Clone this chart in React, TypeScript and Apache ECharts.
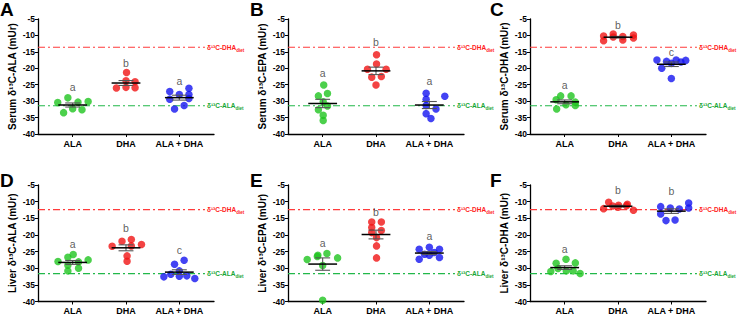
import React, { useEffect, useRef } from 'react';
import * as echarts from 'echarts';

const groups = ['ALA', 'DHA', 'ALA + DHA'];
const groupColors = ['#1fc41f', '#f01414', '#1414f0'];
const panelLetters = ['A', 'B', 'C', 'D', 'E', 'F'];
const yTitles = [
  'Serum δ¹³C-ALA (mUr)', 'Serum δ¹³C-EPA (mUr)', 'Serum δ¹³C-DHA (mUr)',
  'Liver δ¹³C-ALA (mUr)', 'Liver δ¹³C-EPA (mUr)', 'Liver δ¹³C-DHA (mUr)',
];

// diet reference values per panel
const dhaDiet = [-13.6, -13.6, -13.6, -12.4, -12.4, -12.4];
const alaDiet = [-31.4, -31.4, -31.4, -31.6, -31.6, -31.6];

// Panel A
const A_values = [
  [-30.4, -29.0, -33.5, -32.3, -30.3, -32.6, -30.1],
  [-26.0, -21.3, -23.8, -24.1, -25.8, -25.9],
  [-27.1, -29.4, -28.0, -26.1, -28.0, -29.2, -32.4, -31.3],
];
const A_jitter = [
  [-0.28, -0.09, -0.17, 0, 0.1, 0.175, 0.29],
  [-0.18, 0.01, 0, 0.17, 0, 0.17],
  [-0.18, -0.18, 0, 0.18, 0.18, 0.18, -0.09, 0.09],
];
const A_letters = ['a', 'b', 'a'];
const A_letterY = [-25.8, -18.3, -23.8];

// Panel B
const B_values = [
  [-25.1, -28.4, -27.7, -30.2, -31.5, -32.6, -34.3, -35.9],
  [-15.9, -18.7, -20.3, -20.3, -22.7, -22.5, -25.1],
  [-27.6, -28.5, -29.4, -31.3, -32.4, -33.8, -35.3],
];
const B_jitter = [
  [0.02, -0.08, 0.09, 0.01, 0.09, -0.08, 0.01, 0.01],
  [0.01, 0.01, -0.16, 0.19, -0.08, 0.1, 0],
  [-0.06, 0.29, -0.06, -0.06, 0.125, -0.06, 0.03],
];
const B_letters = ['a', 'b', 'a'];
const B_letterY = [-21.5, -12.1, -23.8];

// Panel C
const C_values = [
  [-28.4, -28.4, -29.6, -31.1, -30.3, -31.3, -32.4],
  [-10.2, -11.6, -9.6, -10.5, -10.3, -11.4, -9.9, -10.8],
  [-17.5, -20.0, -17.9, -18.5, -17.5, -18.1, -17.6, -23.1],
];
const C_jitter = [
  [-0.075, 0.12, -0.16, 0.025, 0.2, 0.2, -0.15],
  [-0.27, -0.27, -0.09, -0.09, 0.09, 0.09, 0.29, 0.29],
  [-0.27, -0.18, -0.09, 0, 0.09, 0.18, 0.27, 0],
];
const C_letters = ['a', 'b', 'c'];
const C_letterY = [-25.1, -6.8, -15.1];

// Panel D
const D_values = [
  [-28.0, -26.7, -25.9, -29.1, -28.1, -27.5, -30.0, -30.8],
  [-23.4, -21.9, -21.4, -23.3, -22.9, -26.3, -27.9],
  [-28.8, -27.6, -32.6, -31.8, -30.8, -32.4, -32.3, -33.1],
];
const D_jitter = [
  [-0.275, -0.09, 0.01, -0.09, 0.11, 0.29, 0.11, -0.09],
  [-0.26, -0.075, 0.1, 0.1, 0.29, 0.02, 0.02],
  [-0.09, 0.09, -0.29, -0.16, 0, 0, 0.14, 0.29],
];
const D_letters = ['a', 'b', 'c'];
const D_letterY = [-22.6, -17.9, -24.6];

// Panel E
const E_values = [
  [-27.4, -26.1, -25.6, -26.5, -26.9, -29.2, -39.6],
  [-16.1, -16.1, -17.8, -19.3, -18.7, -20.8, -23.3, -26.9],
  [-24.3, -23.7, -24.3, -25.8, -26.1, -25.3, -27.3, -26.8],
];
const E_jitter = [
  [-0.29, -0.09, 0.08, -0.1, 0.28, 0, 0],
  [-0.08, 0.1, -0.08, -0.08, 0.1, 0.01, 0.01, 0.01],
  [-0.19, 0, 0.19, -0.09, 0, 0.09, -0.19, 0.19],
];
const E_letters = ['a', 'b', 'a'];
const E_letterY = [-22.4, -13.0, -20.3];

// Panel F
const F_values = [
  [-31.0, -28.5, -27.3, -28.4, -30.1, -30.8, -30.8, -31.6],
  [-12.1, -10.2, -11.3, -11.7, -11.1, -11.2, -10.8, -12.6],
  [-11.5, -11.9, -12.2, -10.4, -11.9, -13.7, -15.7, -15.5],
];
const F_jitter = [
  [-0.26, -0.16, 0.025, 0.2, -0.125, 0.03, 0.16, 0.29],
  [-0.27, -0.175, -0.1, 0, 0.01, 0.16, 0.175, 0.29],
  [-0.2, -0.02, 0.15, 0.325, 0.325, -0.2, -0.1, 0.07],
];
const F_letters = ['a', 'b', 'b'];
const F_letterY = [-24.3, -6.6, -6.9];

const allValues = [A_values, B_values, C_values, D_values, E_values, F_values];
const allJitter = [A_jitter, B_jitter, C_jitter, D_jitter, E_jitter, F_jitter];
const allLetters = [A_letters, B_letters, C_letters, D_letters, E_letters, F_letters];
const allLetterY = [A_letterY, B_letterY, C_letterY, D_letterY, E_letterY, F_letterY];

const FONT = '"Liberation Sans", Arial, sans-serif';
const X_MIN = 0.35;
const X_MAX = 3.65;
const REF_END = 3.48;

const colLeft = [38, 288, 530];
const rowTop = [19, 185];
const gridW = 176;
const gridH = [115, 116.5];

function meanSem(arr: number[]) {
  const n = arr.length;
  const m = arr.reduce((a, b) => a + b, 0) / n;
  const sd = Math.sqrt(arr.reduce((a, b) => a + (b - m) * (b - m), 0) / (n - 1));
  return [m, sd / Math.sqrt(n)];
}

function refSeries(p: number, value: number, txt: string, lineColor: string, textColor: string) {
  return {
    type: 'line', xAxisIndex: p, yAxisIndex: p, z: 2, silent: true,
    symbol: 'none', showSymbol: false,
    lineStyle: { color: lineColor, width: 1.2, type: [7, 3, 2, 3] },
    itemStyle: { color: lineColor },
    emphasis: { disabled: true },
    data: [[X_MIN, value], [REF_END, value]],
    endLabel: {
      show: true, distance: 2,
      formatter: '{m|' + txt + '}{s|diet}',
      rich: {
        m: { fontSize: 6.5, color: textColor, fontFamily: FONT, fontWeight: 'bold', lineHeight: 11, verticalAlign: 'middle' },
        s: { fontSize: 4.5, color: textColor, fontFamily: FONT, fontWeight: 'bold', lineHeight: 11, verticalAlign: 'bottom' },
      },
    },
  };
}

function buildOption() {
  const grid: any[] = [];
  const xAxis: any[] = [];
  const yAxis: any[] = [];
  const series: any[] = [];
  const graphic: any[] = [];

  for (let p = 0; p < 6; p++) {
    const r = Math.floor(p / 3);
    const c = p % 3;
    grid.push({ left: colLeft[c], top: rowTop[r], width: gridW, height: gridH[r], containLabel: false });
    xAxis.push({
      type: 'value', gridIndex: p, min: X_MIN, max: X_MAX,
      splitLine: { show: false },
      axisLine: { show: true, onZero: false, lineStyle: { color: '#000', width: 1.3 } },
      axisTick: { show: true, customValues: [1, 2, 3], length: 3, lineStyle: { color: '#000', width: 1 } },
      axisLabel: {
        show: true, customValues: [1, 2, 3], margin: 5,
        formatter: (v: number) => groups[Math.round(v) - 1] || '',
        color: '#000', fontFamily: FONT, fontWeight: 'bold', fontSize: 9,
      },
    });
    yAxis.push({
      type: 'value', gridIndex: p, min: -40, max: -5, interval: 5,
      splitLine: { show: false },
      axisLine: { show: true, lineStyle: { color: '#000', width: 1.3 } },
      axisTick: { show: true, length: 3, lineStyle: { color: '#000', width: 1 } },
      axisLabel: { color: '#000', fontFamily: FONT, fontWeight: 'bold', fontSize: 8.5, margin: 3 },
      name: yTitles[p], nameLocation: 'middle', nameGap: 21, nameRotate: 90,
      nameTextStyle: { color: '#000', fontFamily: FONT, fontWeight: 'bold', fontSize: 10 },
    });

    series.push(refSeries(p, dhaDiet[p], 'δ¹³C-DHA', '#ff3b3b', '#ff1a1a'));
    series.push(refSeries(p, alaDiet[p], 'δ¹³C-ALA', '#22b84a', '#16a635'));

    const stats: any[] = [];
    const vals = allValues[p];
    const jit = allJitter[p];
    for (let g = 0; g < 3; g++) {
      const pts = vals[g].map((v, i) => [g + 1 + jit[g][i], v]);
      const [m, s] = meanSem(vals[g]);
      stats.push([g + 1, m, s]);
      series.push({
        type: 'scatter', xAxisIndex: p, yAxisIndex: p, symbolSize: 7.5, z: 3,
        itemStyle: { color: groupColors[g] },
        data: pts,
      });
    }

    series.push({
      type: 'custom', xAxisIndex: p, yAxisIndex: p, z: 4,
      data: stats,
      renderItem: (params: any, api: any) => {
        const x = api.value(0), m = api.value(1), s = api.value(2);
        const a = api.coord([x - 0.27, m]);
        const b = api.coord([x + 0.27, m]);
        const t = api.coord([x, m + s]);
        const bt = api.coord([x, m - s]);
        const tl = api.coord([x - 0.14, m + s]);
        const tr = api.coord([x + 0.14, m + s]);
        const bl = api.coord([x - 0.14, m - s]);
        const br = api.coord([x + 0.14, m - s]);
        const grey = { stroke: '#555', lineWidth: 1.1 };
        return {
          type: 'group',
          children: [
            { type: 'line', shape: { x1: t[0], y1: t[1], x2: bt[0], y2: bt[1] }, style: grey },
            { type: 'line', shape: { x1: tl[0], y1: tl[1], x2: tr[0], y2: tr[1] }, style: grey },
            { type: 'line', shape: { x1: bl[0], y1: bl[1], x2: br[0], y2: br[1] }, style: grey },
            { type: 'line', shape: { x1: a[0], y1: a[1], x2: b[0], y2: b[1] }, style: { stroke: '#000', lineWidth: 1.5 } },
          ],
        };
      },
    });

    series.push({
      type: 'scatter', xAxisIndex: p, yAxisIndex: p, symbolSize: 0, z: 5, silent: true,
      itemStyle: { color: '#333' },
      data: allLetters[p].map((l, g) => ({ name: l, value: [g + 1, allLetterY[p][g]] })),
      label: {
        show: true, position: 'inside', formatter: '{b}', color: '#333',
        textBorderWidth: 0, textBorderColor: 'transparent',
        fontFamily: FONT, fontSize: 10.5,
      },
    });

    graphic.push({
      type: 'text', left: [0, 250, 490][c], top: [0, 171][r],
      style: { text: panelLetters[p], fontFamily: FONT, fontWeight: 'bold', fontSize: 19, fill: '#000' },
    });
  }

  return { animation: false, backgroundColor: '#fff', grid, xAxis, yAxis, series, graphic };
}

export default function App() {
  const ref = useRef<HTMLDivElement>(null);
  useEffect(() => {
    document.body.style.margin = '0';
    const chart = echarts.init(ref.current!, undefined, { renderer: 'svg' });
    chart.setOption(buildOption() as any);
    return () => chart.dispose();
  }, []);
  return <div ref={ref} style={{ width: 737, height: 318 }} />;
}
